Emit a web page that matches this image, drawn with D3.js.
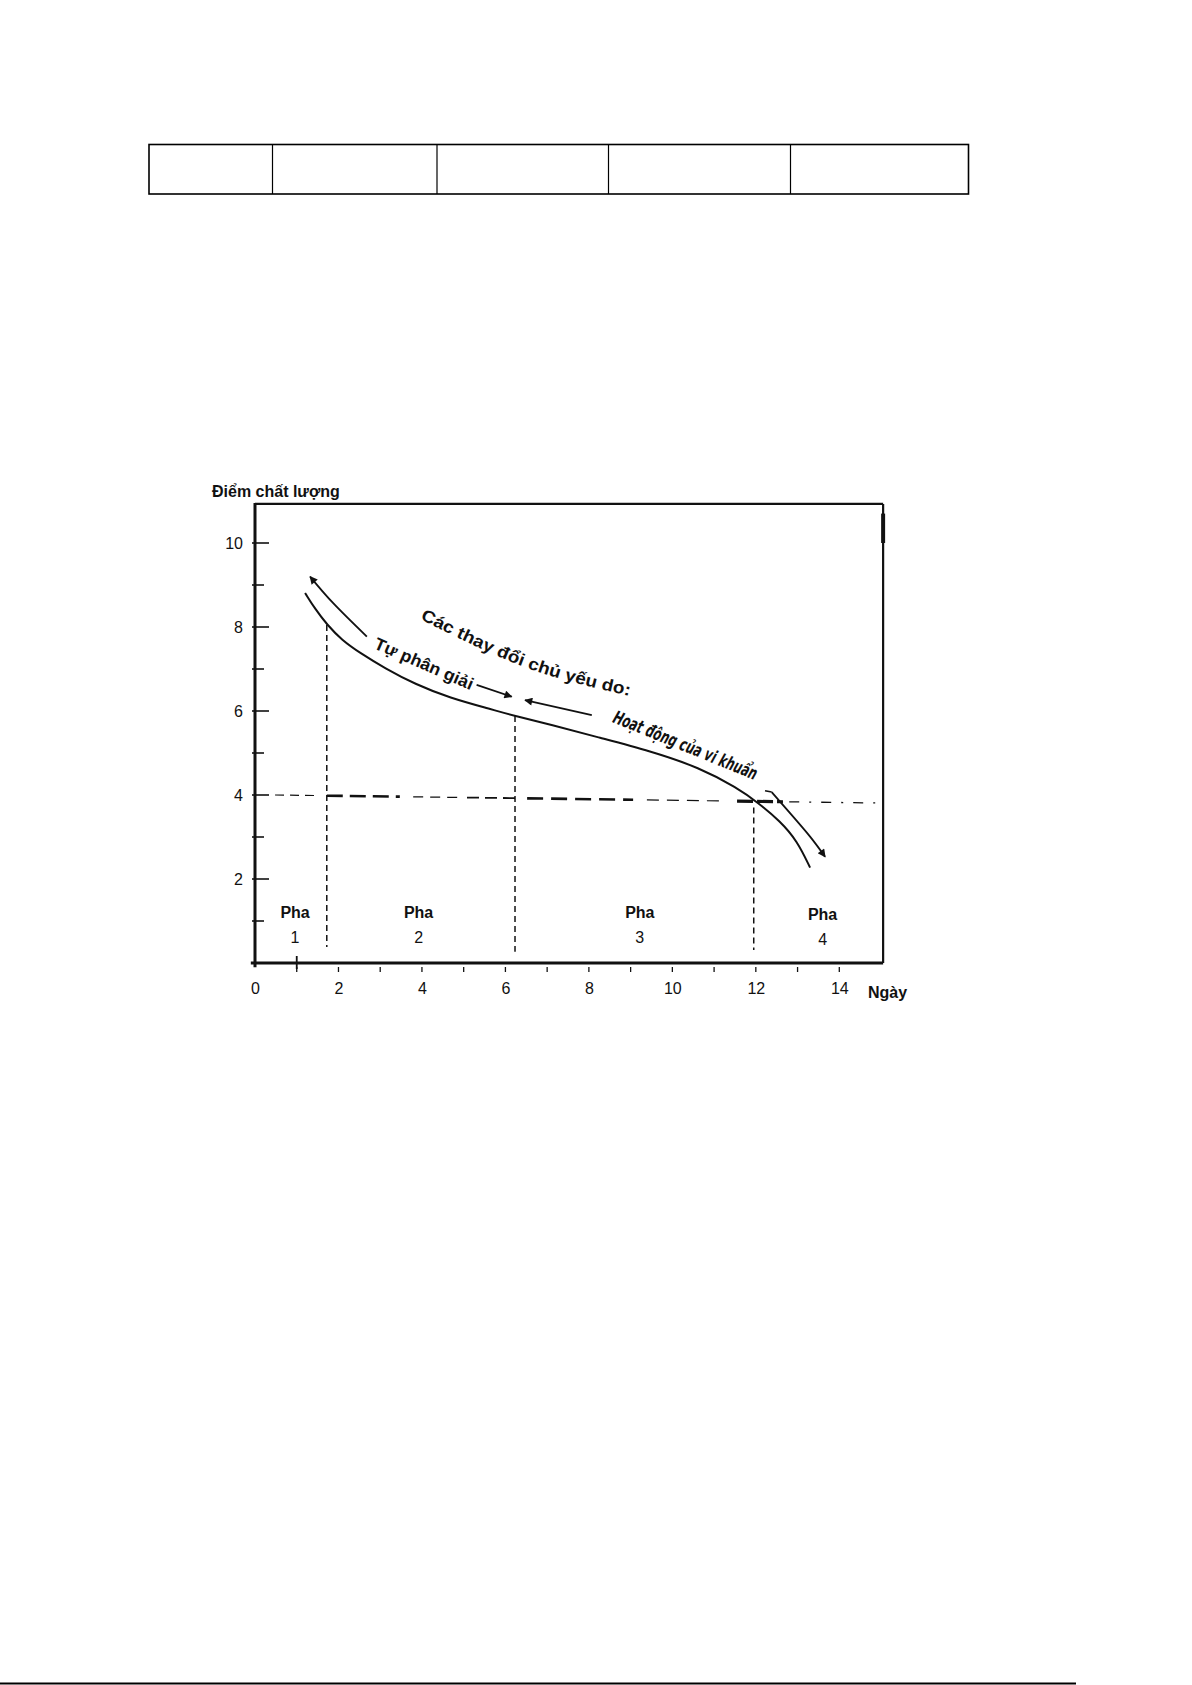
<!DOCTYPE html>
<html>
<head>
<meta charset="utf-8">
<script src="https://cdn.jsdelivr.net/npm/d3@7"></script>
<style>
  body { margin: 0; background: #fff; }
  svg { display: block; }
  text { font-family: "Liberation Sans", Arial, sans-serif; fill: #111; }
</style>
</head>
<body>
<svg id="svg" width="1192" height="1685"></svg>
<script>
// quality score of fish vs days in ice (4 phases)
var curveDay   = [1.20, 1.44, 1.73, 2.08, 2.52, 3.11, 3.83, 4.67, 5.63, 6.23, 7.07, 8.27, 9.46, 10.66, 11.55, 12.05, 12.58, 12.99, 13.30];
var curveScore = [8.81, 8.43, 8.05, 7.69, 7.38, 7.02, 6.64, 6.31, 6.05, 5.88, 5.68, 5.36, 5.05, 4.65, 4.17, 3.82, 3.38, 2.91, 2.27];

// arrow that runs along the curve on the left (autolysis) and right (bacteria)
var leftArrowDay   = [2.68, 1.88, 1.32];
var leftArrowScore = [7.77, 8.56, 9.20];
var rightArrowDay   = [12.38, 12.82, 13.30, 13.66];
var rightArrowScore = [4.07, 3.57, 3.01, 2.53];

// phase borders (day, top score, bottom score)
var phaseBorderDay    = [1.72, 6.23, 11.95];
var phaseBorderTop    = [8.05, 5.88, 3.70];
var phaseBorderBottom = [0.38, 0.27, 0.31];

var phaseName  = ["1", "2", "3", "4"];
var phaseDay   = [0.96, 3.92, 9.22, 13.60];
var phaseScore = [1.07, 1.07, 1.07, 1.02];

// limit line at score 4 (a bit tilted in the scan)
var limitDay   = [0.48, 14.9];
var limitScore = [4.00, 3.81];

var yTicks = [2, 4, 6, 8, 10];
var yMinor = [1, 3, 5, 7, 9];
var xTicks = [0, 2, 4, 6, 8, 10, 12, 14];
var xMinor = d3.range(1, 15);

var svg = d3.select('svg');

// ---- empty table at the top of the page
var tableCols = [149, 272.5, 437, 608.5, 790.5, 968.5];
svg.append('rect')
  .attr('x', tableCols[0]).attr('y', 144.5)
  .attr('width', tableCols[5] - tableCols[0]).attr('height', 49.5)
  .attr('fill', 'none').attr('stroke', '#000').attr('stroke-width', 1.6);
svg.selectAll('line.col')
  .data(tableCols.slice(1, 5))
  .enter().append('line')
  .attr('class', 'col')
  .attr('x1', function(d) { return d; }).attr('x2', function(d) { return d; })
  .attr('y1', 144.5).attr('y2', 194)
  .attr('stroke', '#000').attr('stroke-width', 1.2);

// footer rule
svg.append('line').attr('x1', 0).attr('x2', 1076).attr('y1', 1683.5).attr('y2', 1683.5)
  .attr('stroke', '#000').attr('stroke-width', 2);

// ---- chart
var x = d3.scaleLinear().domain([0, 14]).range([255, 839.3]);
var y = d3.scaleLinear().domain([0, 10]).range([963, 543]);
var xEnd = 15.05, yTop = 10.93;

var g = svg.append('g');

var defs = svg.append('defs');
defs.append('marker')
  .attr('id', 'head')
  .attr('viewBox', '0 0 10 10')
  .attr('refX', 9).attr('refY', 5)
  .attr('markerWidth', 11).attr('markerHeight', 8)
  .attr('markerUnits', 'userSpaceOnUse')
  .attr('orient', 'auto-start-reverse')
  .append('path').attr('d', 'M0,0 L10,5 L0,10 z').attr('fill', '#111');

// frame
g.append('line')
  .attr('x1', x(0)).attr('x2', x(xEnd)).attr('y1', y(yTop)).attr('y2', y(yTop))
  .attr('stroke', '#111').attr('stroke-width', 2.2);
g.append('line')
  .attr('x1', x(xEnd)).attr('x2', x(xEnd)).attr('y1', y(yTop)).attr('y2', y(0))
  .attr('stroke', '#111').attr('stroke-width', 2.2);
g.append('line')
  .attr('x1', x(xEnd)).attr('x2', x(xEnd)).attr('y1', y(10.7)).attr('y2', y(10.0))
  .attr('stroke', '#111').attr('stroke-width', 4);
g.append('line')
  .attr('x1', x(-0.1)).attr('x2', x(xEnd)).attr('y1', y(0)).attr('y2', y(0))
  .attr('stroke', '#111').attr('stroke-width', 3);
g.append('line')
  .attr('x1', x(0)).attr('x2', x(0)).attr('y1', y(yTop) - 1).attr('y2', y(-0.1))
  .attr('stroke', '#111').attr('stroke-width', 3);

// y ticks
g.selectAll('line.ymaj').data(yTicks).enter().append('line')
  .attr('x1', x(0) - 3).attr('x2', x(0) + 14)
  .attr('y1', function(d) { return y(d); }).attr('y2', function(d) { return y(d); })
  .attr('stroke', '#111').attr('stroke-width', 1.6);
g.selectAll('line.ymin').data(yMinor).enter().append('line')
  .attr('x1', x(0) - 3).attr('x2', x(0) + 9)
  .attr('y1', function(d) { return y(d); }).attr('y2', function(d) { return y(d); })
  .attr('stroke', '#111').attr('stroke-width', 1.6);

// x ticks
g.selectAll('line.xmin').data(xMinor).enter().append('line')
  .attr('x1', function(d) { return x(d); }).attr('x2', function(d) { return x(d); })
  .attr('y1', y(0) + 4).attr('y2', y(0) + 9)
  .attr('stroke', '#111').attr('stroke-width', 1.3);
g.append('line')
  .attr('x1', x(1)).attr('x2', x(1)).attr('y1', y(0) - 7).attr('y2', y(0) + 6)
  .attr('stroke', '#111').attr('stroke-width', 1.8);

// tick labels with d3 axes
var yAxis = g.append('g').attr('transform', 'translate(' + x(0) + ',0)')
  .call(d3.axisLeft(y).tickValues(yTicks).tickSize(0).tickPadding(12));
var xAxis = g.append('g').attr('transform', 'translate(0,' + y(0) + ')')
  .call(d3.axisBottom(x).tickValues(xTicks).tickSize(0).tickPadding(20));
[yAxis, xAxis].forEach(function(a) {
  a.select('.domain').remove();
  a.selectAll('text')
    .attr('fill', '#111')
    .style('font-family', '"Liberation Sans", Arial, sans-serif')
    .style('font-size', '16px');
});

// axis titles
g.append('text').attr('x', 212).attr('y', 497)
  .style('font-size', '16px').style('font-weight', 'bold')
  .text('Điểm chất lượng');
g.append('text').attr('x', 868).attr('y', 998)
  .style('font-size', '16px').style('font-weight', 'bold')
  .text('Ngày');

// limit line, drawn in pieces because the scan has heavy and light dashes
var limitY = d3.scaleLinear().domain(limitDay).range(limitScore);
var dashPieces = [
  [0.48, 1.49, 1.2, '9,6'],
  [1.72, 3.47, 2.6, '16,7'],
  [3.79, 4.91, 1.2, '10,7'],
  [5.08, 6.23, 1.8, '12,6'],
  [6.52, 9.06, 2.6, '16,8'],
  [9.39, 11.21, 1.2, '12,8'],
  [11.55, 12.65, 3.2, '16,4'],
  [12.80, 14.9, 1.3, '10,10,2,10']
];
g.selectAll('line.limit').data(dashPieces).enter().append('line')
  .attr('x1', function(d) { return x(d[0]); })
  .attr('x2', function(d) { return x(d[1]); })
  .attr('y1', function(d) { return y(limitY(d[0])); })
  .attr('y2', function(d) { return y(limitY(d[1])); })
  .attr('stroke', '#111')
  .attr('stroke-width', function(d) { return d[2]; })
  .attr('stroke-dasharray', function(d) { return d[3]; });

// phase borders
g.selectAll('line.phase').data(phaseBorderDay).enter().append('line')
  .attr('x1', function(d) { return x(d); }).attr('x2', function(d) { return x(d); })
  .attr('y1', function(d, i) { return y(phaseBorderTop[i]); })
  .attr('y2', function(d, i) { return y(phaseBorderBottom[i]); })
  .attr('stroke', '#111').attr('stroke-width', 1.5)
  .attr('stroke-dasharray', '6,4');

// phase labels
g.selectAll('text.pha').data(phaseDay).enter().append('text')
  .attr('x', function(d) { return x(d); })
  .attr('y', function(d, i) { return y(phaseScore[i]); })
  .attr('text-anchor', 'middle')
  .style('font-size', '16px').style('font-weight', 'bold')
  .text('Pha');
g.selectAll('text.phn').data(phaseDay).enter().append('text')
  .attr('x', function(d) { return x(d); })
  .attr('y', function(d, i) { return y(phaseScore[i]) + 25; })
  .attr('text-anchor', 'middle')
  .style('font-size', '16px')
  .text(function(d, i) { return phaseName[i]; });

// main curve (basis smooths out the reading noise)
var line = d3.line()
  .x(function(d) { return x(d[0]); })
  .y(function(d) { return y(d[1]); })
  .curve(d3.curveBasis);
g.append('path')
  .attr('d', line(d3.zip(curveDay, curveScore)))
  .attr('fill', 'none').attr('stroke', '#111').attr('stroke-width', 2);

var arrowLine = d3.line()
  .x(function(d) { return x(d[0]); })
  .y(function(d) { return y(d[1]); })
  .curve(d3.curveNatural);
g.append('path')
  .attr('d', arrowLine(d3.zip(leftArrowDay, leftArrowScore)))
  .attr('fill', 'none').attr('stroke', '#111').attr('stroke-width', 1.8)
  .attr('marker-end', 'url(#head)');
g.append('path')
  .attr('d', arrowLine(d3.zip(rightArrowDay, rightArrowScore)))
  .attr('fill', 'none').attr('stroke', '#111').attr('stroke-width', 1.8)
  .attr('marker-end', 'url(#head)');
// little hook at the top of the right arrow
g.append('line')
  .attr('x1', x(12.22)).attr('x2', x(12.38)).attr('y1', y(4.10)).attr('y2', y(4.07))
  .attr('stroke', '#111').attr('stroke-width', 1.6);

// short straight arrows in the middle
var midArrows = [
  [[5.31, 6.62], [6.15, 6.34]],
  [[8.07, 5.90], [6.47, 6.26]]
];
g.selectAll('path.mid').data(midArrows).enter().append('path')
  .attr('d', function(d) { return d3.line().x(function(p) { return x(p[0]); }).y(function(p) { return y(p[1]); })(d); })
  .attr('fill', 'none').attr('stroke', '#111').attr('stroke-width', 1.8)
  .attr('marker-end', 'url(#head)');

// labels along the curve
var notes = [
  { id: 'n1', text: 'Các thay đổi chủ yếu do:', pts: [[3.95, 8.19], [6.51, 7.03], [8.98, 6.36]],
    size: 17, weight: 'bold', style: 'normal', family: '"Liberation Sans", Arial, sans-serif', len: 224 },
  { id: 'n2', text: 'Tự phân giải', pts: [[2.83, 7.50], [5.20, 6.48]],
    size: 17, weight: 'bold', style: 'normal', family: '"Liberation Sans", Arial, sans-serif', len: 106 },
  { id: 'n3', text: 'Hoạt động của vi khuẩn', pts: [[8.55, 5.74], [12.03, 4.33]],
    size: 18, weight: 'bold', style: 'italic', family: '"Liberation Sans Narrow", "DejaVu Sans Condensed", sans-serif', len: 154 }
];
notes.forEach(function(n) {
  defs.append('path').attr('id', n.id).attr('d', arrowLine(n.pts));
  g.append('text')
    .style('font-size', n.size + 'px')
    .style('font-weight', n.weight)
    .style('font-style', n.style)
    .style('font-family', n.family)
    .append('textPath')
    .attr('href', '#' + n.id)
    .attr('textLength', n.len)
    .attr('lengthAdjust', 'spacingAndGlyphs')
    .text(n.text);
});
</script>
</body>
</html>
